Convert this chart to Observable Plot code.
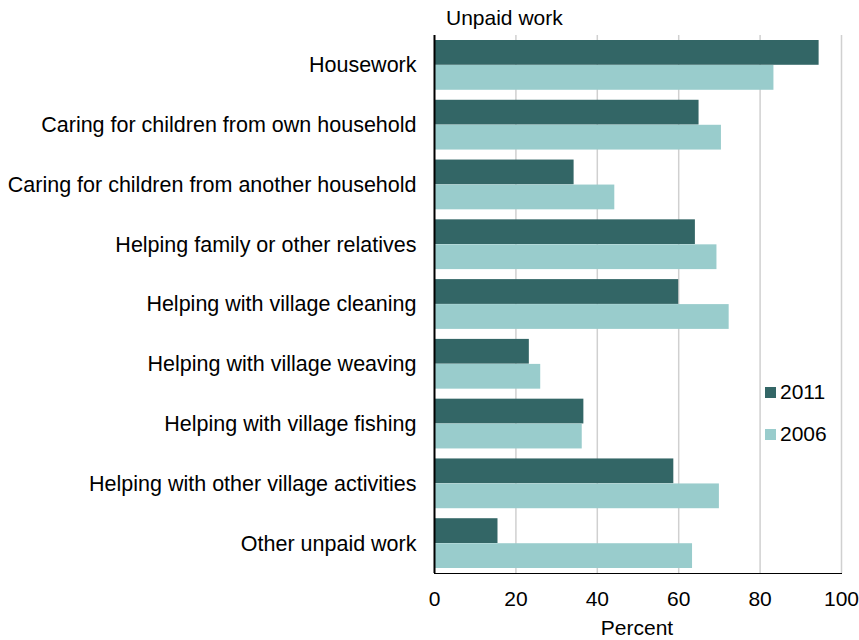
<!DOCTYPE html>
<html><head><meta charset="utf-8">
<script src="https://cdn.jsdelivr.net/npm/d3@7"></script>
<script src="https://cdn.jsdelivr.net/npm/@observablehq/plot@0.6"></script>
<style>
body{margin:0;background:#fff;font-family:"Liberation Sans",Arial,sans-serif;}
#wrap{position:relative;width:859px;height:640px;}
#wrap svg{position:absolute;left:0;top:0;}
#wrap svg g[aria-label^="y-axis"] text{font-size:21.5px;}
#wrap svg g[aria-label^="x-axis"] path.domain,
#wrap svg g[aria-label="x-axis"] > path,
#wrap svg g[aria-label="x-axis line"] line,
#wrap svg g[aria-label="x-axis line"] path{stroke:#000;stroke-width:2;stroke-opacity:1;}
.lbl{position:absolute;font-size:21px;line-height:24px;color:#000;white-space:nowrap;}
.sw{position:absolute;width:11px;height:11px;}
</style></head><body><div id="wrap"></div>
<script>
const categories = [
  "Housework",
  "Caring for children from own household",
  "Caring for children from another household",
  "Helping family or other relatives",
  "Helping with village cleaning",
  "Helping with village weaving",
  "Helping with village fishing",
  "Helping with other village activities",
  "Other unpaid work"
];
const v2011 = [94.5, 65.0, 34.3, 64.1, 60.0, 23.3, 36.7, 58.8, 15.6];
const v2006 = [83.4, 70.5, 44.3, 69.4, 72.4, 26.1, 36.3, 70.0, 63.4];
const years = ["2011", "2006"];
const colors = ["#336666", "#99cccc"];
const xTicks = [0, 20, 40, 60, 80, 100];
const titleText = "Unpaid work";
const xLabelText = "Percent";

const rows = categories.flatMap((c, i) => [
  {category: c, year: years[0], value: v2011[i]},
  {category: c, year: years[1], value: v2006[i]}
]);

const chart = Plot.plot({
  width: 859, height: 640,
  marginTop: 35, marginBottom: 67, marginLeft: 434, marginRight: 18,
  style: {fontSize: "21px", fontFamily: "'Liberation Sans', Arial, sans-serif", color: "#000", background: "#fff", overflow: "visible"},
  x: {domain: [0, 100], ticks: xTicks, tickFormat: d => String(d), tickSize: 0, tickPadding: 18, label: null, line: true},
  y: {domain: categories, tickSize: 0, tickPadding: 18, label: null, padding: 0, round: false},
  color: {domain: years, range: colors},
  marks: [
    Plot.ruleX(xTicks.filter(d => d > 0), {stroke: "#d0d0d0", strokeWidth: 1.5}),
    Plot.barX(rows.filter(d => d.year === years[0]), {x: "value", y: "category", fill: "year", insetTop: 5, insetBottom: 30}),
    Plot.barX(rows.filter(d => d.year === years[1]), {x: "value", y: "category", fill: "year", insetTop: 30, insetBottom: 5}),
    Plot.ruleX([0], {stroke: "#000", strokeWidth: 2})
  ]
});
const wrap = document.getElementById("wrap");
wrap.appendChild(chart);

function addLabel(text, left, top, extra) {
  const d = document.createElement("div");
  d.className = "lbl"; d.textContent = text;
  d.style.left = left + "px"; d.style.top = top + "px";
  if (extra) Object.assign(d.style, extra);
  wrap.appendChild(d);
  return d;
}
addLabel(titleText, 446, 6);
addLabel(xLabelText, 637, 616, {transform: "translateX(-50%)"});
years.forEach((y, i) => {
  const cy = [392, 434][i];
  const s = document.createElement("div");
  s.className = "sw"; s.style.background = colors[i];
  s.style.left = "765px"; s.style.top = (cy - 5.5) + "px";
  wrap.appendChild(s);
  addLabel(y, 780, cy - 12);
});
</script></body></html>
